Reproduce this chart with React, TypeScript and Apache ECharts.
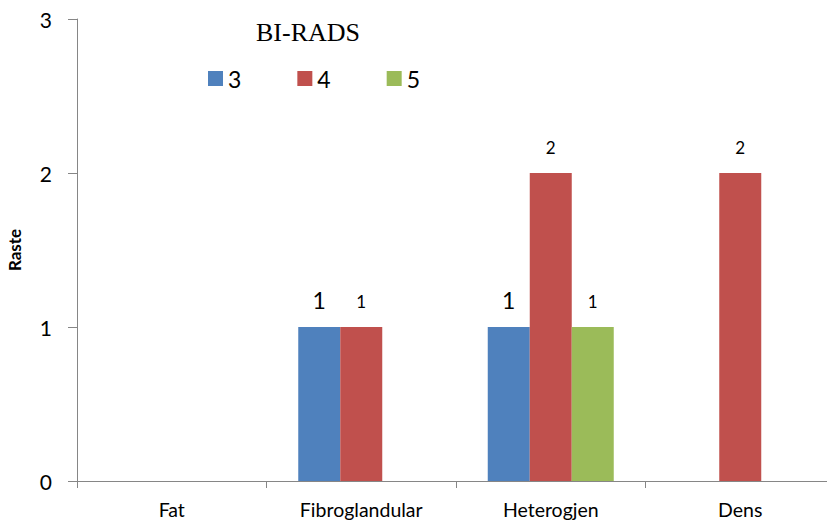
import React, { useEffect, useRef } from "react";
import * as echarts from "echarts";

const categories = ["Fat", "Fibroglandular", "Heterogjen", "Dens"];
const seriesNames = ["3", "4", "5"];
const values3 = [null, 1, 1, null];
const values4 = [null, 1, 2, 2];
const values5 = [null, null, 1, null];
const colors = ["#4F81BD", "#C0504D", "#9BBB59"];
const labelSizes = [23, 17, 17];
const labelDist = [16, 17, 17];

export default function App() {
  const ref = useRef<HTMLDivElement>(null);
  useEffect(() => {
    const chart = echarts.init(ref.current!, null, { renderer: "svg" });
    const data = [values3, values4, values5];
    chart.setOption({
      animation: false,
      textStyle: { fontFamily: "Lato" },
      title: {
        text: "BI-RADS",
        left: 251,
        top: 14,
        textStyle: { fontFamily: "Liberation Serif", fontSize: 26, fontWeight: "normal", color: "#000" },
      },
      legend: {
        left: 203,
        top: 62,
        itemWidth: 15,
        itemHeight: 15,
        itemGap: 56,
        icon: "rect",
        textStyle: { fontSize: 23, color: "#000", fontFamily: "Lato" },
        data: seriesNames,
      },
      grid: { left: 77, width: 758, top: 19, bottom: 39, containLabel: false, outerBoundsMode: "none" },
      xAxis: {
        type: "category",
        data: categories,
        axisLine: { lineStyle: { color: "#868686" } },
        axisTick: { show: true, length: 7, lineStyle: { color: "#868686" } },
        axisLabel: { fontSize: 19.5, color: "#000", margin: 18, fontFamily: "Lato" },
      },
      yAxis: {
        type: "value",
        min: 0,
        max: 3,
        interval: 1,
        name: "Raste",
        nameLocation: "middle",
        nameRotate: 90,
        nameGap: 54,
        nameTextStyle: { fontSize: 17, fontWeight: "bold", color: "#000", fontFamily: "Lato" },
        axisLine: { show: true, lineStyle: { color: "#868686" } },
        axisTick: { show: true, length: 9, lineStyle: { color: "#868686" } },
        splitLine: { show: false },
        axisLabel: { fontSize: 21, color: "#000", margin: 25, fontFamily: "Lato" },
      },
      series: seriesNames.map((n, i) => ({
        name: n,
        type: "bar",
        data: data[i],
        barWidth: 42,
        barGap: "0%",
        itemStyle: { color: colors[i] },
        label: {
          show: true,
          position: "top",
          distance: labelDist[i],
          fontSize: labelSizes[i],
          color: "#000",
          fontFamily: "Lato",
        },
      })),
    });
    return () => chart.dispose();
  }, []);
  return <div ref={ref} style={{ width: 827, height: 520, position: "absolute", left: 0, top: 0 }} />;
}
